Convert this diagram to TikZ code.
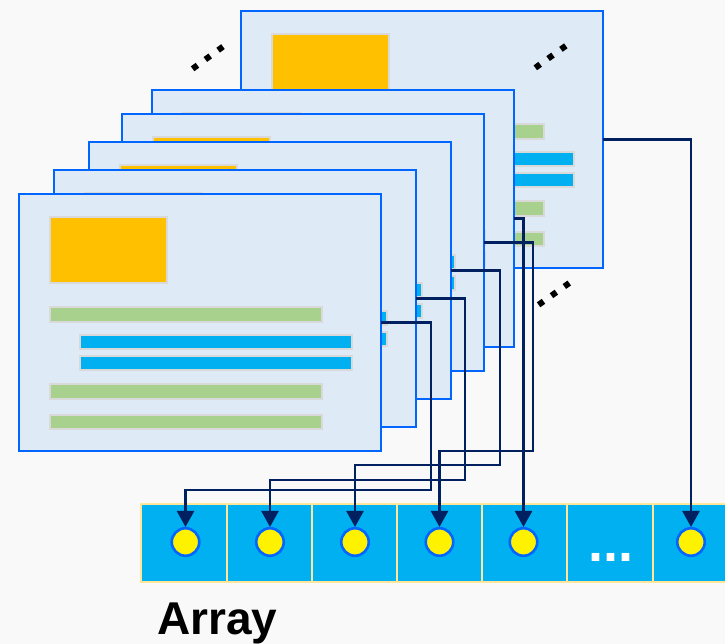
\documentclass[tikz,border=0pt]{standalone}
\usepackage{fontspec}
\setmainfont{Liberation Sans}
\usetikzlibrary{arrows.meta}
\definecolor{bg}{HTML}{F9F9F9}
\definecolor{pagefill}{HTML}{DEEAF6}
\definecolor{pageedge}{HTML}{0066FF}
\definecolor{gold}{HTML}{FFC000}
\definecolor{leaf}{HTML}{A9D18E}
\definecolor{sky}{HTML}{00B0F0}
\definecolor{navy}{HTML}{002060}
\definecolor{celledge}{HTML}{FFE699}
\definecolor{elemedge}{HTML}{D9D9D9}
\tikzset{
  pagebox/.style={draw=pageedge, fill=pagefill, line width=1.8pt, minimum width=362pt, minimum height=257pt, anchor=north west, inner sep=0pt, outer sep=0pt},
  elem/.style={draw=elemedge, line width=1.3pt},
  conn/.style={draw=navy, line width=2.6pt, -{Triangle[width=17pt,length=16pt]}},
  cellbox/.style={draw=celledge, fill=sky, line width=2pt, minimum width=85.2pt, minimum height=78pt, inner sep=0pt, outer sep=0pt},
  dotc/.style={circle, draw=pageedge, fill=yellow, line width=2.6pt, minimum size=27.5pt, inner sep=0pt},
  dotline/.style={line width=6pt, dash pattern=on 6pt off 9.8pt}
}
\newcommand\docpage[3]{%
  \begin{scope}[shift={(#2,#3)}]
    \node[pagebox] (#1) at (0,0) {};
    \draw[elem, fill=gold] (31,23) rectangle (148,89);
    \draw[elem, fill=leaf] (31,113) rectangle (303,128);
    \draw[elem, fill=sky] (61,141) rectangle (333,155);
    \draw[elem, fill=sky] (61,162) rectangle (333,176);
    \draw[elem, fill=leaf] (31,190) rectangle (303,205);
    \draw[elem, fill=leaf] (31,221) rectangle (303,235);
  \end{scope}}
\begin{document}
\begin{tikzpicture}[x=1pt, y=-1pt]
\useasboundingbox (0,0) rectangle (725,644);
\clip (0,0) rectangle (725,644);
\fill[bg] (0,0) rectangle (725,644);

% array
\foreach \i in {1,...,7} {
  \node[cellbox] (cell\i) at ({141.4+85.2*(\i-0.5)},543) {};
}
\node[dotc] (c1) at (185.5,542) {};
\node[dotc] (c2) at (270,542) {};
\node[dotc] (c3) at (355,542) {};
\node[dotc] (c4) at (439.5,542) {};
\node[dotc] (c5) at (523.5,542) {};
\node[dotc] (c7) at (691,542) {};
\node[anchor=base, inner sep=0pt, text=white, font=\fontsize{54}{60}\selectfont\bfseries] (ell) at (611,561) {...};

\node[anchor=base west, inner sep=0pt, font=\fontsize{46}{50}\selectfont\bfseries] (lbl) at (157,634) {Array};

% bend points
\coordinate (b4) at (533,451);
\coordinate (b3) at (500,465);
\coordinate (b2) at (465,480);
\coordinate (b1) at (431,490);

% pages back to front with their connectors
\docpage{p6}{241}{11}
\draw[conn] (p6.east) -| (c7.north);
\docpage{p5}{152}{90}
\draw[conn] (p5.east) -| (c5.north);
\docpage{p4}{122}{114}
\draw[conn] (p4.east) -| (b4) -| (c4.north);
\docpage{p3}{89}{142}
\draw[conn] (p3.east) -| (b3) -| (c3.north);
\docpage{p2}{54}{170}
\draw[conn] (p2.east) -| (b2) -| (c2.north);
\docpage{p1}{19}{194}
\draw[conn] (p1.east) -| (b1) -| (c1.north);

% ellipsis dots
\coordinate (da1) at (192.6,68.8); \coordinate (da2) at (224.4,45.6);
\coordinate (db1) at (535.3,67.8); \coordinate (db2) at (566.4,45.4);
\coordinate (dc1) at (538.6,304.8); \coordinate (dc2) at (570.4,282.2);
\draw[dotline] (da1) -- (da2);
\draw[dotline] (db1) -- (db2);
\draw[dotline] (dc1) -- (dc2);
\end{tikzpicture}
\end{document}
